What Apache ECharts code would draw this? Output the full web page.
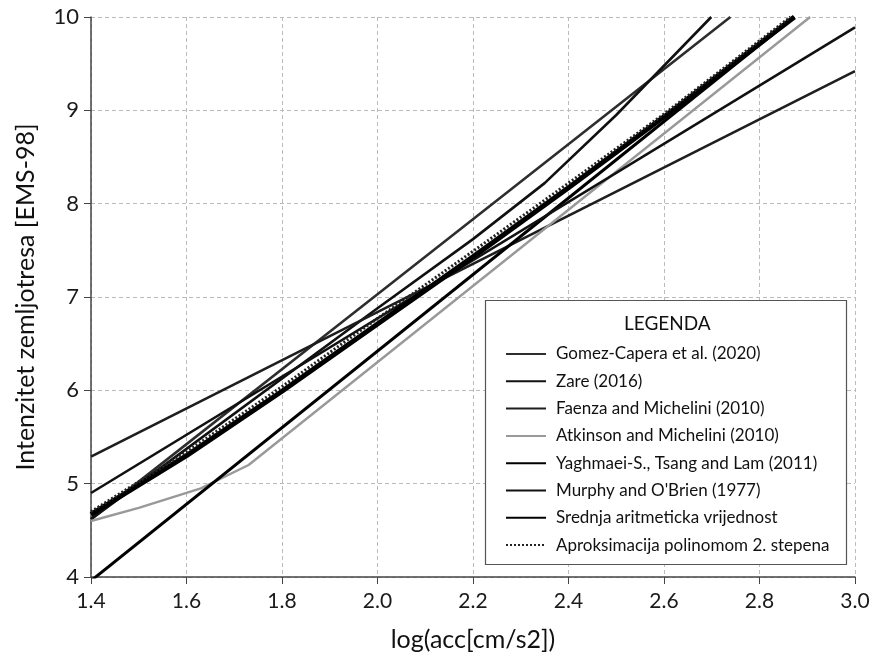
<!DOCTYPE html>
<html>
<head>
<meta charset="utf-8">
<script src="https://cdn.jsdelivr.net/npm/echarts@6/dist/echarts.min.js"></script>
<style>
  html, body { margin: 0; padding: 0; background: #fff; }
  #chart { width: 875px; height: 657px; }
</style>
</head>
<body>
<div id="chart"></div>
<script>
// podaci očitani sa slike: [log(acc), intenzitet]
const gomezCapera = [[1.4, 4.62], [2.0, 7.03], [2.739, 10.0]]
const zare = [[1.4, 4.62], [2.0, 6.88], [2.2, 7.62], [2.35, 8.22], [2.5, 8.95], [2.699, 10.0]]
const faenza = [[1.4, 5.29], [3.0, 9.42]]
const atkinson = [[1.4, 4.6], [1.5, 4.74], [1.63, 4.95], [1.73, 5.2], [2.906, 10.0]]
const yaghmaei = [[1.4, 3.96], [2.873, 10.0]]
const murphy = [[1.4, 4.9], [3.0, 9.89]]
const srednja = [[1.4, 4.67], [1.6, 5.30], [1.8, 5.99], [2.0, 6.71], [2.2, 7.43], [2.4, 8.17], [2.6, 8.93], [2.873, 10.0]]
const aproksimacija = [[1.4, 4.70], [1.6, 5.34], [1.8, 6.04], [2.0, 6.77], [2.2, 7.49], [2.4, 8.22], [2.6, 8.96], [2.865, 10.0]]

const names = [
  'Gomez-Capera et al. (2020)',
  'Zare (2016)',
  'Faenza and Michelini (2010)',
  'Atkinson and Michelini (2010)',
  'Yaghmaei-S., Tsang and Lam (2011)',
  "Murphy and O'Brien (1977)",
  'Srednja aritmeticka vrijednost',
  'Aproksimacija polinomom 2. stepena',
]
const xTicks = [1.4, 3.0, 0.2]
const yTicks = [4, 10, 1]

const FONT = "Lato, 'Open Sans', sans-serif"

function line(name, data, color, width, type, z) {
  return {
    name, type: 'line', data,
    symbol: 'none', smooth: false, z: z || 2,
    lineStyle: { color, width, type: type || 'solid' },
    itemStyle: { color },
  }
}

const chart = echarts.init(document.getElementById('chart'))
chart.setOption({
  animation: false,
  backgroundColor: '#fff',
  grid: { left: 91, right: 20, top: 17, bottom: 80 },
  title: {
    text: 'LEGENDA', left: 619, top: 309, z: 12,
    textStyle: { fontFamily: FONT, fontSize: 19, fontWeight: 'normal', color: '#111' },
  },
  legend: {
    data: names, orient: 'vertical', left: 500, top: 340, z: 12,
    itemWidth: 40, itemHeight: 12, itemGap: 9.3,
    itemStyle: { opacity: 0 },
    textStyle: { fontFamily: FONT, fontSize: 17, lineHeight: 18, color: '#111', padding: [0, 0, 0, 5] },
  },
  graphic: [
    {
      type: 'rect', z: 10,
      shape: { x: 485.5, y: 300.5, width: 361, height: 264 },
      style: { fill: '#fff', stroke: '#555', lineWidth: 1.2 },
    },
    {
      type: 'text', x: 26, y: 297, rotation: Math.PI / 2, z: 10,
      style: {
        text: 'Intenzitet zemljotresa [EMS-98]', fontFamily: FONT, fontSize: 25,
        fill: '#111', align: 'center', verticalAlign: 'middle',
      },
    },
  ],
  xAxis: {
    type: 'value', min: xTicks[0], max: xTicks[1], interval: xTicks[2],
    name: 'log(acc[cm/s2])', nameLocation: 'middle', nameGap: 50,
    nameTextStyle: { fontFamily: FONT, fontSize: 25, color: '#111' },
    axisLine: { show: true, lineStyle: { color: '#444', width: 1.5 } },
    axisTick: { show: true, length: 7, lineStyle: { color: '#444' } },
    axisLabel: {
      fontFamily: FONT, fontSize: 21, color: '#1a1a1a', margin: 14,
      formatter: v => v.toFixed(1),
    },
    splitLine: { show: true, lineStyle: { color: '#bbb', type: [4, 3], width: 1 } },
  },
  yAxis: {
    type: 'value', min: yTicks[0], max: yTicks[1], interval: yTicks[2],
    axisLine: { show: true, lineStyle: { color: '#444', width: 1.5 } },
    axisTick: { show: true, length: 7, lineStyle: { color: '#444' } },
    axisLabel: { fontFamily: FONT, fontSize: 22, color: '#1a1a1a', margin: 12 },
    splitLine: { show: true, lineStyle: { color: '#bbb', type: [4, 3], width: 1 } },
  },
  series: [
    line(names[0], gomezCapera, '#2e2e2e', 2.6),
    line(names[1], zare, '#111', 2.6),
    line(names[2], faenza, '#1e1e1e', 2.6),
    line(names[3], atkinson, '#999', 2.4),
    line(names[4], yaghmaei, '#000', 3),
    line(names[5], murphy, '#111', 2.6),
    line(names[6], srednja, '#000', 5, 'solid', 3),
    line(names[7], aproksimacija, '#222', 3, [2, 2], 4),
  ],
})
</script>
</body>
</html>
